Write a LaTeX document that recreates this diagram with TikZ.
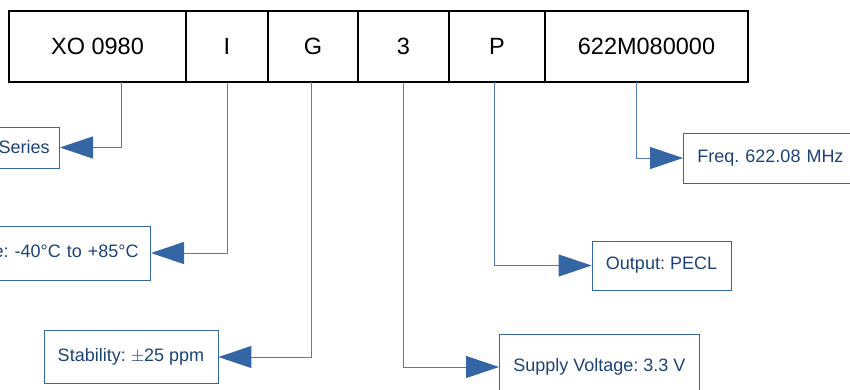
\documentclass[tikz,border=0pt]{standalone}
\usepackage{fontspec}
\setmainfont{Liberation Sans}
\usepackage{tikz}
\usepackage{xcolor}
\usetikzlibrary{arrows.meta}
\definecolor{codeblue}{HTML}{3465A4}
\definecolor{linkblue}{HTML}{5479B5}
\definecolor{textblue}{HTML}{1C427A}
\tikzstyle{cell} = [draw=black, line width=1.6pt, minimum height=71pt, inner sep=0pt, font=\fontsize{23.5}{26}\selectfont]
\tikzstyle{label} = [draw=codeblue, line width=0.9pt, text=textblue, inner sep=0pt, font=\fontsize{18}{21}\selectfont]
\tikzstyle{link} = [draw=linkblue, line width=1pt, -{Triangle[length=33pt,width=22pt,fill=codeblue,color=codeblue]}]
\frenchspacing

\begin{document}
\begin{tikzpicture}[x=1pt,y=-1pt]
\useasboundingbox (0,0) rectangle (850,389);
\clip (0,0) rectangle (850,389);

% part number
\node[cell, minimum width=177pt] (n1) at (97.5,46.5) {XO 0980};
\node[cell, minimum width=82pt] (n2) at (227,46.5) {I};
\node[cell, minimum width=90pt] (n3) at (313,46.5) {G};
\node[cell, minimum width=91pt] (n4) at (403.5,46.5) {3};
\node[cell, minimum width=96pt] (n5) at (497,46.5) {P};
\node[cell, minimum width=203pt] (n6) at (646.5,46.5) {622M080000};

% meaning of each field
\node[label, anchor=east, text width=90pt, align=right, inner xsep=10pt, minimum height=41pt] (series) at (60,147.5) {Series};
\node[label, anchor=east, text width=330pt, align=right, inner xsep=12pt, minimum height=54pt] (temp) at (151,253) {Operating Temperature: -40°C to +85°C};
\node[label, minimum width=174pt, minimum height=53pt] (stab) at (131,357) {Stability: {\fontsize{16}{19}\selectfont$\pm$}25 ppm};
\node[label, anchor=west, minimum width=200pt, minimum height=66pt] (supply) at (499,367) {Supply Voltage: 3.3 V};
\node[label, minimum width=139pt, minimum height=49pt] (output) at (661.5,265.5) {Output: PECL};
\node[label, anchor=west, text width=180pt, align=left, inner xsep=14pt, minimum height=50pt] (freq) at (683,158) {Freq. 622.08 MHz};

\coordinate (s1) at (121,82);
\coordinate (s3) at (311,82);
\coordinate (s5) at (494,82);
\coordinate (s6) at (636,82);

\foreach \from/\to in {s1/series,n2/temp,s3/stab,n4/supply,s5/output,s6/freq}
{
	\draw[link] (\from.south) |- (\to);
}

\end{tikzpicture}
\end{document}
